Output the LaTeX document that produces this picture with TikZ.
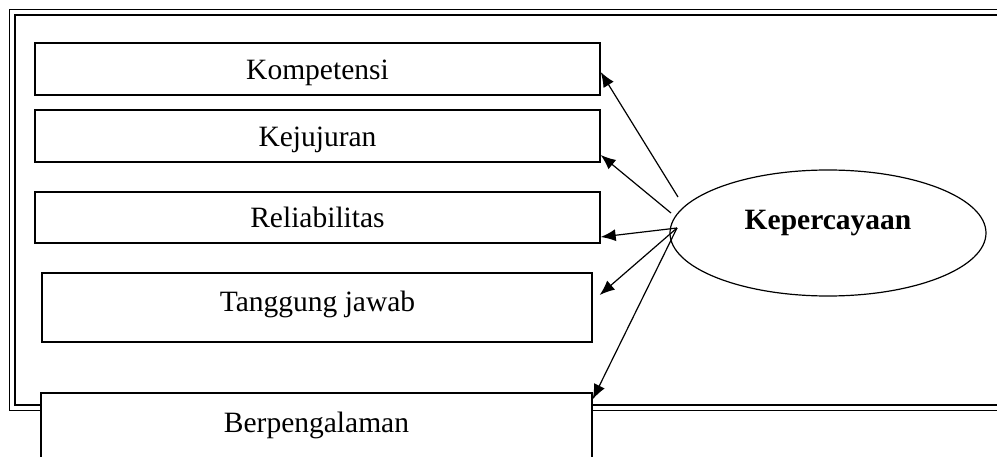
\documentclass[tikz,border=0pt]{standalone}
\usepackage{fontspec}
\setmainfont{Liberation Serif}
\usetikzlibrary{arrows.meta,shapes.geometric}
\begin{document}
\begin{tikzpicture}[x=1pt,y=-1pt,
  box/.style={draw,line width=1.4pt,fill=white,inner sep=0pt,rectangle},
  lbl/.style={font=\fontsize{29.5}{34}\selectfont,anchor=base,inner sep=0pt},
  arr/.style={line width=1.2pt,-{Latex[length=15pt,width=12pt]}},
  thinframe/.style={line width=1.3pt},
  thickframe/.style={line width=2.8pt}]
\clip (0,0) rectangle (997,457);
\fill[white] (0,0) rectangle (997,457);
% double frame
\draw[thinframe] (9.5,9.5) rectangle (1010,410.5);
\draw[thickframe] (15,15) rectangle (1010,405);
% boxes
\node[box,minimum width=565,minimum height=52] (komp) at (317.5,69) {};
\node[box,minimum width=565,minimum height=52] (kej) at (317.5,136) {};
\node[box,minimum width=565,minimum height=51] (rel) at (317.5,217.5) {};
\node[box,minimum width=550,minimum height=69] (tang) at (317,307.5) {};
\node[box,minimum width=551,minimum height=90] (berp) at (316.5,438) {};
% labels
\node[lbl] (kompt) at (317.5,80) {Kompetensi};
\node[lbl] (kejt) at (317.5,146.5) {Kejujuran};
\node[lbl] (relt) at (317.5,228) {Reliabilitas};
\node[lbl] (tangt) at (317.5,312) {Tanggung jawab};
\node[lbl] (berpt) at (316.5,432) {Berpengalaman};
% ellipse
\node[draw,ellipse,line width=1.2pt,minimum width=316,minimum height=126,inner sep=0pt] (kep) at (828,233) {};
\node[lbl,font=\fontsize{29.5}{34}\selectfont\bfseries] (kept) at (828,230) {Kepercayaan};
% arrows
\coordinate (s1) at (678,197);
\coordinate (s2) at (671,213);
\coordinate (s3) at (677,228);
\draw[arr] (s1) -- ([yshift=-3pt]komp.east);
\draw[arr] (s2) -- ([yshift=-19pt]kej.east);
\draw[arr] (s3) -- ([yshift=-19.5pt]rel.east);
\draw[arr] (s3) -- ([xshift=7pt,yshift=12.5pt]tang.east);
\draw[arr] (s3) -- ([yshift=-7pt]berp.north east);
\end{tikzpicture}
\end{document}
